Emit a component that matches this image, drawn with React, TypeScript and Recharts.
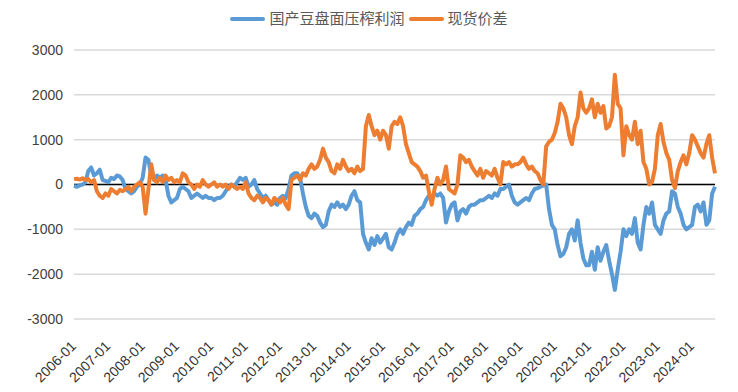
import { LineChart, Line, XAxis, YAxis, CartesianGrid, ReferenceLine } from 'recharts'

// years shown on the x axis, one point per month
const years = [2006, 2007, 2008, 2009, 2010, 2011, 2012, 2013, 2014, 2015, 2016, 2017, 2018, 2019, 2020, 2021, 2022, 2023, 2024]
const monthLabels = ['01', '02', '03', '04', '05', '06', '07', '08', '09', '10', '11', '12']
const tickLabels = years.map((y) => `${y}-01`)

// 国产豆盘面压榨利润 (monthly)
const profit2006 = [-30, -50, -20, 0, 50, 300, 380, 200, 250, 330, 100, 80]
const profit2007 = [50, 150, 120, 200, 180, 100, -100, -150, -200, -150, -50, 0]
const profit2008 = [150, 600, 550, 200, 100, 200, 150, 200, 100, -250, -400, -350]
const profit2009 = [-300, -100, -50, -100, -150, -300, -250, -200, -250, -300, -250, -300]
const profit2010 = [-300, -350, -300, -300, -250, -150, -50, 0, -50, 50, 150, 100]
const profit2011 = [150, -50, 0, 100, -100, -200, -300, -250, -350, -450, -400, -450]
const profit2012 = [-300, -250, -300, -100, 200, 250, 250, 150, -200, -500, -700, -750]
const profit2013 = [-650, -700, -850, -950, -900, -600, -450, -500, -400, -500, -450, -550]
const profit2014 = [-450, -250, -150, -350, -400, -1100, -1300, -1450, -1200, -1350, -1150, -1300]
const profit2015 = [-1200, -1100, -1400, -1450, -1300, -1100, -1000, -1100, -950, -850, -900, -700]
const profit2016 = [-650, -550, -500, -350, -250, -300, -200, -250, -200, -300, -850, -600]
const profit2017 = [-450, -400, -800, -600, -550, -650, -500, -450, -450, -400, -350, -350]
const profit2018 = [-300, -250, -300, -200, -250, -100, -100, -50, 0, -250, -400, -450]
const profit2019 = [-400, -350, -300, -350, -200, -100, -80, -50, -20, 0, -550, -900]
const profit2020 = [-1000, -1350, -1600, -1550, -1400, -1100, -1000, -1250, -800, -1300, -1650, -1800]
const profit2021 = [-1800, -1500, -1900, -1400, -1700, -1500, -1350, -1700, -2000, -2350, -1900, -1500]
const profit2022 = [-1000, -1150, -1000, -1100, -750, -1300, -1450, -900, -500, -650, -400, -900]
const profit2023 = [-1000, -1100, -800, -650, -600, -150, -200, -500, -650, -900, -1000, -950]
const profit2024 = [-900, -500, -450, -600, -400, -900, -800, -200, -50]

// 现货价差
const spread2006 = [120, 130, 110, 140, 100, 120, 50, 100, -150, -250, -300, -200]
const spread2007 = [-250, -100, -150, -200, -120, -150, -100, -50, -150, -50, 0, 50]
const spread2008 = [-50, -650, -100, 450, 100, 50, 150, 50, 200, 100, 150, 50]
const spread2009 = [100, 50, 250, 200, 50, 0, -100, 0, -50, 100, 0, -50]
const spread2010 = [0, 50, -50, 0, -50, 0, -100, 0, -50, -100, -50, -100]
const spread2011 = [50, -200, -300, -350, -250, -300, -400, -300, -350, -450, -300, -350]
const spread2012 = [-400, -300, -450, -550, 100, 150, 200, 100, 250, 200, 350, 450]
const spread2013 = [350, 400, 550, 800, 600, 500, 300, 250, 450, 350, 550, 400]
const spread2014 = [300, 350, 250, 400, 300, 350, 1300, 1550, 1300, 1100, 1200, 1000]
const spread2015 = [1200, 1100, 800, 1300, 1400, 1350, 1500, 1300, 900, 700, 500, 450]
const spread2016 = [400, 300, 150, 200, -150, -450, -100, 150, 0, 100, 400, -100]
const spread2017 = [-150, -200, 0, 650, 600, 500, 550, 400, 300, 200, 350, 150]
const spread2018 = [300, 250, 200, 350, 150, 0, 500, 450, 500, 400, 450, 450]
const spread2019 = [500, 600, 450, 350, 400, 300, 250, 100, 0, 850, 950, 1000]
const spread2020 = [1150, 1400, 1800, 1700, 1500, 1100, 900, 1300, 1500, 2050, 1700, 1600]
const spread2021 = [1700, 1900, 1500, 1800, 1600, 1750, 1250, 1300, 1500, 2450, 1800, 1700]
const spread2022 = [650, 1300, 1100, 1000, 1400, 900, 1200, 500, 350, 0, 50, 350]
const spread2023 = [1100, 1350, 950, 700, 550, 100, -80, 300, 500, 650, 450, 700]
const spread2024 = [1100, 1000, 850, 700, 600, 900, 1100, 600, 250]

const profitByYear = [
  profit2006, profit2007, profit2008, profit2009, profit2010, profit2011, profit2012,
  profit2013, profit2014, profit2015, profit2016, profit2017, profit2018, profit2019,
  profit2020, profit2021, profit2022, profit2023, profit2024,
]
const spreadByYear = [
  spread2006, spread2007, spread2008, spread2009, spread2010, spread2011, spread2012,
  spread2013, spread2014, spread2015, spread2016, spread2017, spread2018, spread2019,
  spread2020, spread2021, spread2022, spread2023, spread2024,
]

const yTicks = [-3000, -2000, -1000, 0, 1000, 2000, 3000]

const BLUE = '#5b9bd5'
const ORANGE = '#ed7d31'
const FONT = "'Liberation Sans', 'Noto Sans CJK SC', sans-serif"

const chartData = years.flatMap((year, i) =>
  profitByYear[i].map((p, m) => ({
    date: `${year}-${monthLabels[m]}`,
    profit: p,
    spread: spreadByYear[i][m],
  }))
)

function MonthTick({ x, y, payload }: any) {
  return (
    <g transform={`translate(${x + 3},${y + 28})`}>
      <text x={0} y={0} textAnchor="end" transform="rotate(-45)" fill="#333" fontSize={14} fontFamily={FONT}>
        {payload.value}
      </text>
    </g>
  )
}

function LegendItem({ color, label }: { color: string; label: string }) {
  return (
    <div style={{ display: 'flex', alignItems: 'center' }}>
      <span style={{ width: 35, height: 4, borderRadius: 2, background: color, marginRight: 4 }} />
      <span>{label}</span>
    </div>
  )
}

export default function App() {
  return (
    <div style={{ position: 'absolute', left: 0, top: 0, width: 738, height: 392, background: '#fff', fontFamily: FONT }}>
      <div
        style={{
          position: 'absolute',
          top: 8,
          left: 0,
          width: 738,
          display: 'flex',
          justifyContent: 'center',
          gap: 4,
          fontSize: 15,
          color: '#595959',
          lineHeight: '22px',
        }}
      >
        <LegendItem color={BLUE} label="国产豆盘面压榨利润" />
        <LegendItem color={ORANGE} label="现货价差" />
      </div>
      <LineChart width={738} height={392} data={chartData} margin={{ top: 50, right: 23, left: 0, bottom: 13 }}>
        <CartesianGrid vertical={false} stroke="#d9d9d9" strokeWidth={1.5} />
        <XAxis
          dataKey="date"
          ticks={tickLabels}
          interval={0}
          axisLine={false}
          tickLine={false}
          tickSize={0}
          tickMargin={0}
          height={60}
          tick={<MonthTick />}
        />
        <YAxis
          domain={[-3000, 3000]}
          ticks={yTicks}
          width={74}
          axisLine={false}
          tickLine={false}
          tickSize={0}
          tickMargin={11}
          tick={{ fill: '#404040', fontSize: 14, fontFamily: FONT }}
        />
        <ReferenceLine y={0} stroke="#000" strokeWidth={1.5} />
        <Line
          type="linear"
          dataKey="profit"
          stroke={BLUE}
          strokeWidth={4}
          strokeLinejoin="round"
          dot={false}
          isAnimationActive={false}
          name="国产豆盘面压榨利润"
        />
        <Line
          type="linear"
          dataKey="spread"
          stroke={ORANGE}
          strokeWidth={4}
          strokeLinejoin="round"
          dot={false}
          isAnimationActive={false}
          name="现货价差"
        />
      </LineChart>
    </div>
  )
}
